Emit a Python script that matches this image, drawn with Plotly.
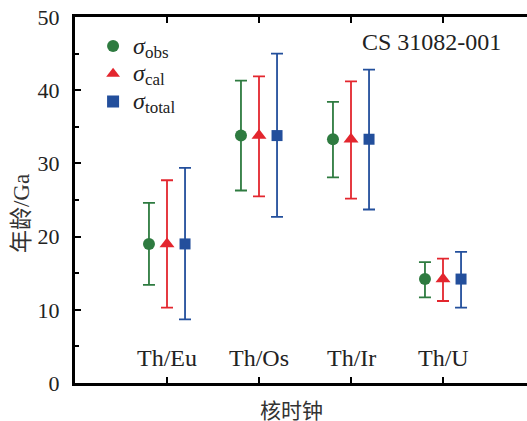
import plotly.graph_objects as go

categories = ["Th/Eu", "Th/Os", "Th/Ir", "Th/U"]
ages = [19.0, 33.8, 33.3, 14.2]

obs_upper = [24.6, 41.3, 38.4, 16.5]
obs_lower = [13.4, 26.3, 28.1, 11.7]
cal_upper = [27.7, 41.9, 41.2, 17.0]
cal_lower = [10.3, 25.5, 25.2, 11.2]
tot_upper = [29.4, 45.0, 42.8, 17.9]
tot_lower = [8.7, 22.7, 23.7, 10.3]

y_ticks = [0, 10, 20, 30, 40, 50]


def sig(sub):
    return ("<span style='font-family:Liberation Serif;font-size:24px'><i>σ</i></span>"
            "<sub><span style='font-family:Liberation Serif;font-size:17px'>" + sub + "</span></sub>")


series = [
    (sig("obs"), obs_upper, obs_lower, "#2e7b40", "circle", 12, -0.196),
    (sig("cal"), cal_upper, cal_lower, "#e3262e", "triangle-up", 13, 0.0),
    (sig("total"), tot_upper, tot_lower, "#234f9c", "square", 11, 0.196),
]

SERIF = "Liberation Serif, Noto Sans CJK SC"
CJK = "Noto Sans CJK SC"

fig = go.Figure()
xi = list(range(len(categories)))
for name, up, lo, color, sym, size, off in series:
    fig.add_trace(go.Scatter(
        x=[i + off for i in xi],
        y=ages,
        mode="markers",
        name=name,
        marker=dict(symbol=sym, size=size, color=color, line=dict(width=0)),
        error_y=dict(
            type="data", symmetric=False,
            array=[u - a for u, a in zip(up, ages)],
            arrayminus=[a - l for a, l in zip(ages, lo)],
            color=color, thickness=1.8, width=6,
        ),
    ))

for i, c in enumerate(categories):
    fig.add_annotation(x=i, y=3.4, xref="x", yref="y", text=c, showarrow=False,
                       font=dict(family=SERIF, size=24, color="#222"),
                       xanchor="center", yanchor="middle")

fig.add_annotation(x=0.948, y=0.932, xref="paper", yref="paper", text="CS 31082-001",
                   showarrow=False, xanchor="right", yanchor="middle",
                   font=dict(family=SERIF, size=24, color="#222"))
fig.add_annotation(x=-0.117, y=0.462, xref="paper", yref="paper", text="年龄/Ga",
                   textangle=-90, showarrow=False, xanchor="center", yanchor="middle",
                   font=dict(family=SERIF, size=23, color="#333"))
fig.add_annotation(x=0.48, y=-0.072, xref="paper", yref="paper", text="核时钟",
                   showarrow=False, xanchor="center", yanchor="middle",
                   font=dict(family=CJK, size=21, color="#333"))

fig.update_layout(
    width=527, height=421,
    margin=dict(l=75, r=0, t=17, b=38),
    paper_bgcolor="white", plot_bgcolor="white",
    showlegend=True,
    legend=dict(x=0.04, y=0.972, xanchor="left", yanchor="top",
                bgcolor="rgba(0,0,0,0)", font=dict(family=SERIF, size=19, color="#222"),
                tracegroupgap=0, itemsizing="constant"),
    xaxis=dict(range=[-1, 3.913], tickvals=xi, showticklabels=False,
               ticks="inside", ticklen=6, tickwidth=2, tickcolor="black",
               showline=True, linewidth=3, linecolor="black", mirror="ticks",
               showgrid=False, zeroline=False, fixedrange=True),
    yaxis=dict(range=[0, 50], tickvals=y_ticks, ticks="inside", ticklen=6, tickwidth=2,
               tickcolor="black", showline=True, linewidth=3, linecolor="black",
               mirror=False, showgrid=False, zeroline=False,
               tickfont=dict(family=SERIF, size=22, color="#222"),
               ticklabelstandoff=8,
               minor=dict(dtick=5, ticks="inside", ticklen=4, tickwidth=2, tickcolor="black")),
)

fig.write_html("out.html")
